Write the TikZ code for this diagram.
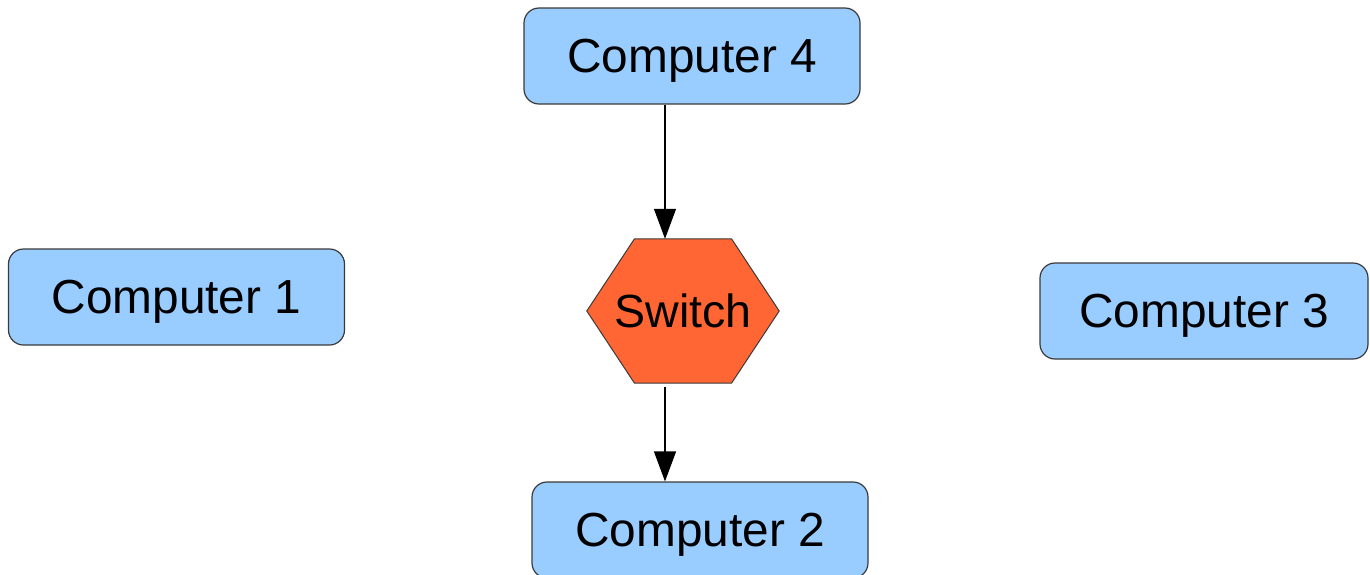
\documentclass[tikz,border=0pt]{standalone}
\usepackage{fontspec}
\setmainfont{Liberation Sans}
\usetikzlibrary{arrows.meta,calc}
\definecolor{boxblue}{HTML}{99CCFF}
\definecolor{switchred}{HTML}{FF6633}
\definecolor{edgegray}{HTML}{3A3A3A}
\begin{document}
\begin{tikzpicture}[x=1pt,y=-1pt,
  computer/.style={draw=edgegray, line width=1.2pt, fill=boxblue, rounded corners=15pt,
    minimum width=336pt, minimum height=96pt, inner sep=0pt, text depth=0pt,
    font=\fontsize{47.8}{56}\selectfont},
  hexframe/.style={minimum width=192pt, minimum height=144pt, inner sep=0pt,
    font=\fontsize{46.5}{56}\selectfont},
  link/.style={line width=1.2pt, -{Triangle[length=30pt,width=22pt]}}]
  \useasboundingbox (0,0) rectangle (1370,574);

  % computers
  \node[computer] (c4) at (692,56) {Computer 4};
  \node[computer] (c1) at (176.5,297) {Computer 1};
  \node[computer, minimum width=328pt] (c3) at (1204,311) {Computer 3};
  \node[computer] (c2) at (700,530) {Computer 2};

  % switch: an irregular hexagon drawn round a frame node
  \node[hexframe] (sw) at (683,311) {};
  \fill[switchred, draw=edgegray, line width=1pt]
    (sw.west) -- ([xshift=-48.5pt]sw.north) -- ([xshift=48.5pt]sw.north)
    -- (sw.east) -- ([xshift=48.5pt]sw.south) -- ([xshift=-48.5pt]sw.south) -- cycle;
  \node[hexframe] at (sw.center) {Switch};

  % links run along one vertical line
  \coordinate (ax) at (665,0);
  \draw[link] (c4.south -| ax) -- (sw.north -| ax);
  \draw[link, shorten <=4pt] (sw.south -| ax) -- (c2.north -| ax);
\end{tikzpicture}
\end{document}
